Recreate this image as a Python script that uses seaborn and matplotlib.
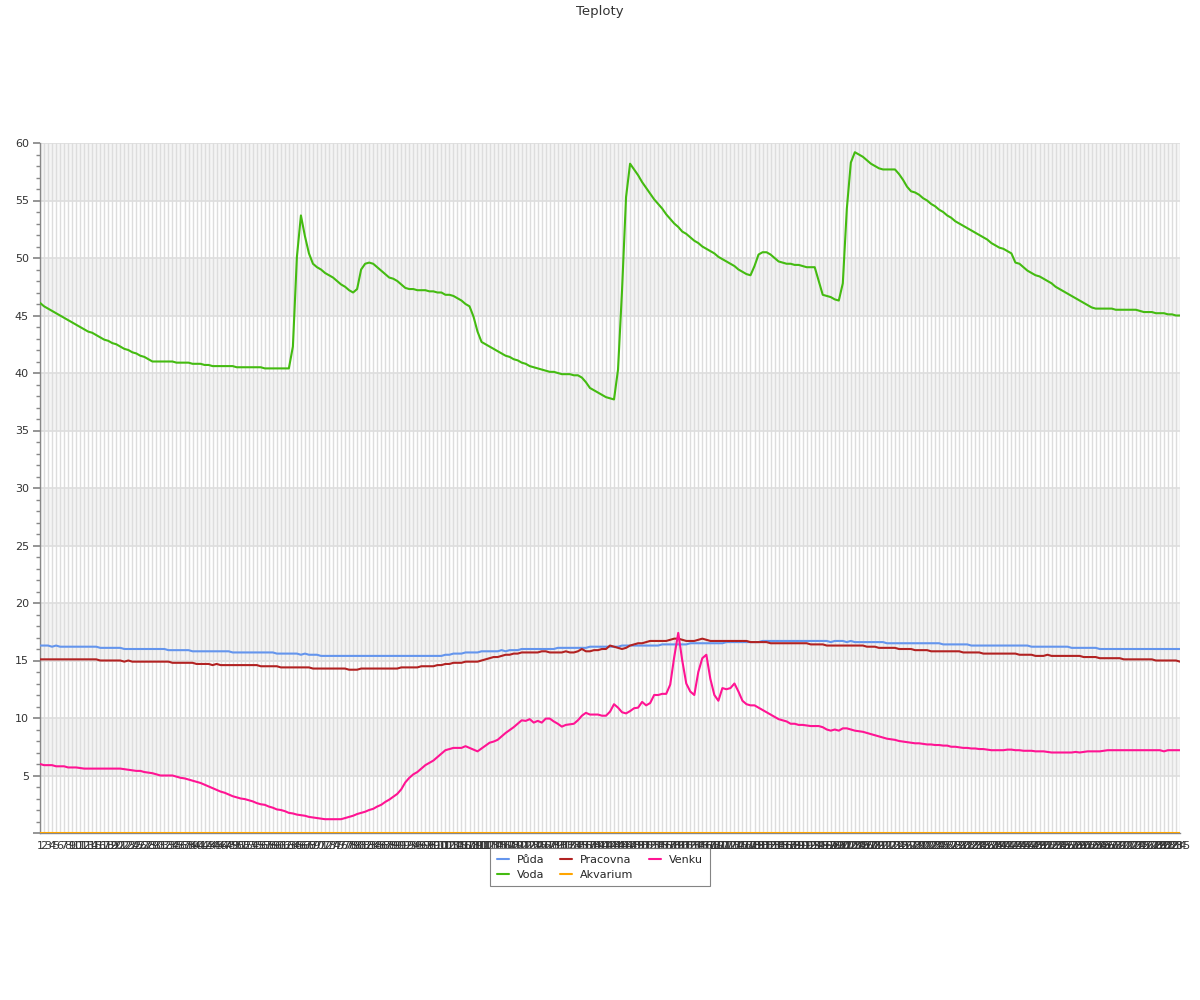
import numpy as np
import pandas as pd
import matplotlib
matplotlib.use("Agg")
import matplotlib.pyplot as plt
from matplotlib.ticker import MultipleLocator
from matplotlib.lines import Line2D
import seaborn as sns

title = "Teploty"
series_names = ["Půda", "Voda", "Pracovna", "Akvarium", "Venku"]
colors = ["#6495ed", "#44bb11", "#b22222", "#ffa500", "#ff1493"]

puda = [
    16.3, 16.3, 16.3, 16.2, 16.3, 16.2, 16.2, 16.2, 16.2, 16.2,
    16.2, 16.2, 16.2, 16.2, 16.2, 16.1, 16.1, 16.1, 16.1, 16.1,
    16.1, 16.0, 16.0, 16.0, 16.0, 16.0, 16.0, 16.0, 16.0, 16.0,
    16.0, 16.0, 15.9, 15.9, 15.9, 15.9, 15.9, 15.9, 15.8, 15.8,
    15.8, 15.8, 15.8, 15.8, 15.8, 15.8, 15.8, 15.8, 15.7, 15.7,
    15.7, 15.7, 15.7, 15.7, 15.7, 15.7, 15.7, 15.7, 15.7, 15.6,
    15.6, 15.6, 15.6, 15.6, 15.6, 15.5, 15.6, 15.5, 15.5, 15.5,
    15.4, 15.4, 15.4, 15.4, 15.4, 15.4, 15.4, 15.4, 15.4, 15.4,
    15.4, 15.4, 15.4, 15.4, 15.4, 15.4, 15.4, 15.4, 15.4, 15.4,
    15.4, 15.4, 15.4, 15.4, 15.4, 15.4, 15.4, 15.4, 15.4, 15.4,
    15.4, 15.5, 15.5, 15.6, 15.6, 15.6, 15.7, 15.7, 15.7, 15.7,
    15.8, 15.8, 15.8, 15.8, 15.8, 15.9, 15.8, 15.9, 15.9, 15.9,
    16.0, 16.0, 16.0, 16.0, 16.0, 16.0, 16.0, 16.0, 16.0, 16.1,
    16.1, 16.1, 16.1, 16.1, 16.1, 16.1, 16.1, 16.2, 16.2, 16.2,
    16.2, 16.2, 16.2, 16.2, 16.2, 16.3, 16.3, 16.3, 16.3, 16.3,
    16.3, 16.3, 16.3, 16.3, 16.3, 16.4, 16.4, 16.4, 16.4, 16.4,
    16.4, 16.4, 16.5, 16.5, 16.5, 16.5, 16.5, 16.5, 16.5, 16.5,
    16.5, 16.6, 16.6, 16.6, 16.6, 16.6, 16.6, 16.6, 16.6, 16.6,
    16.7, 16.7, 16.7, 16.7, 16.7, 16.7, 16.7, 16.7, 16.7, 16.7,
    16.7, 16.7, 16.7, 16.7, 16.7, 16.7, 16.7, 16.6, 16.7, 16.7,
    16.7, 16.6, 16.7, 16.6, 16.6, 16.6, 16.6, 16.6, 16.6, 16.6,
    16.6, 16.5, 16.5, 16.5, 16.5, 16.5, 16.5, 16.5, 16.5, 16.5,
    16.5, 16.5, 16.5, 16.5, 16.5, 16.4, 16.4, 16.4, 16.4, 16.4,
    16.4, 16.4, 16.3, 16.3, 16.3, 16.3, 16.3, 16.3, 16.3, 16.3,
    16.3, 16.3, 16.3, 16.3, 16.3, 16.3, 16.3, 16.2, 16.2, 16.2,
    16.2, 16.2, 16.2, 16.2, 16.2, 16.2, 16.2, 16.1, 16.1, 16.1,
    16.1, 16.1, 16.1, 16.1, 16.0, 16.0, 16.0, 16.0, 16.0, 16.0,
    16.0, 16.0, 16.0, 16.0, 16.0, 16.0, 16.0, 16.0, 16.0, 16.0,
    16.0, 16.0, 16.0, 16.0, 16.0,
]

voda = [
    46.1, 45.8, 45.6, 45.4, 45.2, 45.0, 44.8, 44.6, 44.4, 44.2,
    44.0, 43.8, 43.6, 43.5, 43.3, 43.1, 42.9, 42.8, 42.6, 42.5,
    42.3, 42.1, 42.0, 41.8, 41.7, 41.5, 41.4, 41.2, 41.0, 41.0,
    41.0, 41.0, 41.0, 41.0, 40.9, 40.9, 40.9, 40.9, 40.8, 40.8,
    40.8, 40.7, 40.7, 40.6, 40.6, 40.6, 40.6, 40.6, 40.6, 40.5,
    40.5, 40.5, 40.5, 40.5, 40.5, 40.5, 40.4, 40.4, 40.4, 40.4,
    40.4, 40.4, 40.4, 42.3, 50.1, 53.7, 51.9, 50.4, 49.5, 49.2,
    49.0, 48.7, 48.5, 48.3, 48.0, 47.7, 47.5, 47.2, 47.0, 47.3,
    49.0, 49.5, 49.6, 49.5, 49.2, 48.9, 48.6, 48.3, 48.2, 48.0,
    47.7, 47.4, 47.3, 47.3, 47.2, 47.2, 47.2, 47.1, 47.1, 47.0,
    47.0, 46.8, 46.8, 46.7, 46.5, 46.3, 46.0, 45.8, 44.9, 43.6,
    42.7, 42.5, 42.3, 42.1, 41.9, 41.7, 41.5, 41.4, 41.2, 41.1,
    40.9, 40.8, 40.6, 40.5, 40.4, 40.3, 40.2, 40.1, 40.1, 40.0,
    39.9, 39.9, 39.9, 39.8, 39.8, 39.6, 39.2, 38.7, 38.5, 38.3,
    38.1, 37.9, 37.8, 37.7, 40.3, 47.2, 55.3, 58.2, 57.7, 57.2,
    56.6, 56.1, 55.6, 55.1, 54.7, 54.3, 53.8, 53.4, 53.0, 52.7,
    52.3, 52.1, 51.8, 51.5, 51.3, 51.0, 50.8, 50.6, 50.4, 50.1,
    49.9, 49.7, 49.5, 49.3, 49.0, 48.8, 48.6, 48.5, 49.3, 50.3,
    50.5, 50.5, 50.3, 50.0, 49.7, 49.6, 49.5, 49.5, 49.4, 49.4,
    49.3, 49.2, 49.2, 49.2, 48.0, 46.8, 46.7, 46.6, 46.4, 46.3,
    47.8, 54.3, 58.3, 59.2, 59.0, 58.8, 58.5, 58.2, 58.0, 57.8,
    57.7, 57.7, 57.7, 57.7, 57.3, 56.8, 56.2, 55.8, 55.7, 55.5,
    55.2, 55.0, 54.7, 54.5, 54.2, 54.0, 53.7, 53.5, 53.2, 53.0,
    52.8, 52.6, 52.4, 52.2, 52.0, 51.8, 51.6, 51.3, 51.1, 50.9,
    50.8, 50.6, 50.4, 49.6, 49.5, 49.2, 48.9, 48.7, 48.5, 48.4,
    48.2, 48.0, 47.8, 47.5, 47.3, 47.1, 46.9, 46.7, 46.5, 46.3,
    46.1, 45.9, 45.7, 45.6, 45.6, 45.6, 45.6, 45.6, 45.5, 45.5,
    45.5, 45.5, 45.5, 45.5, 45.4, 45.3, 45.3, 45.3, 45.2, 45.2,
    45.2, 45.1, 45.1, 45.0, 45.0,
]

pracovna = [
    15.1, 15.1, 15.1, 15.1, 15.1, 15.1, 15.1, 15.1, 15.1, 15.1,
    15.1, 15.1, 15.1, 15.1, 15.1, 15.0, 15.0, 15.0, 15.0, 15.0,
    15.0, 14.9, 15.0, 14.9, 14.9, 14.9, 14.9, 14.9, 14.9, 14.9,
    14.9, 14.9, 14.9, 14.8, 14.8, 14.8, 14.8, 14.8, 14.8, 14.7,
    14.7, 14.7, 14.7, 14.6, 14.7, 14.6, 14.6, 14.6, 14.6, 14.6,
    14.6, 14.6, 14.6, 14.6, 14.6, 14.5, 14.5, 14.5, 14.5, 14.5,
    14.4, 14.4, 14.4, 14.4, 14.4, 14.4, 14.4, 14.4, 14.3, 14.3,
    14.3, 14.3, 14.3, 14.3, 14.3, 14.3, 14.3, 14.2, 14.2, 14.2,
    14.3, 14.3, 14.3, 14.3, 14.3, 14.3, 14.3, 14.3, 14.3, 14.3,
    14.4, 14.4, 14.4, 14.4, 14.4, 14.5, 14.5, 14.5, 14.5, 14.6,
    14.6, 14.7, 14.7, 14.8, 14.8, 14.8, 14.9, 14.9, 14.9, 14.9,
    15.0, 15.1, 15.2, 15.3, 15.3, 15.4, 15.5, 15.5, 15.6, 15.6,
    15.7, 15.7, 15.7, 15.7, 15.7, 15.8, 15.8, 15.7, 15.7, 15.7,
    15.7, 15.8, 15.7, 15.7, 15.8, 16.0, 15.8, 15.8, 15.9, 15.9,
    16.0, 16.0, 16.3, 16.2, 16.1, 16.0, 16.1, 16.3, 16.4, 16.5,
    16.5, 16.6, 16.7, 16.7, 16.7, 16.7, 16.7, 16.8, 16.9, 16.9,
    16.8, 16.7, 16.7, 16.7, 16.8, 16.9, 16.8, 16.7, 16.7, 16.7,
    16.7, 16.7, 16.7, 16.7, 16.7, 16.7, 16.7, 16.6, 16.6, 16.6,
    16.6, 16.6, 16.5, 16.5, 16.5, 16.5, 16.5, 16.5, 16.5, 16.5,
    16.5, 16.5, 16.4, 16.4, 16.4, 16.4, 16.3, 16.3, 16.3, 16.3,
    16.3, 16.3, 16.3, 16.3, 16.3, 16.3, 16.2, 16.2, 16.2, 16.1,
    16.1, 16.1, 16.1, 16.1, 16.0, 16.0, 16.0, 16.0, 15.9, 15.9,
    15.9, 15.9, 15.8, 15.8, 15.8, 15.8, 15.8, 15.8, 15.8, 15.8,
    15.7, 15.7, 15.7, 15.7, 15.7, 15.6, 15.6, 15.6, 15.6, 15.6,
    15.6, 15.6, 15.6, 15.6, 15.5, 15.5, 15.5, 15.5, 15.4, 15.4,
    15.4, 15.5, 15.4, 15.4, 15.4, 15.4, 15.4, 15.4, 15.4, 15.4,
    15.3, 15.3, 15.3, 15.3, 15.2, 15.2, 15.2, 15.2, 15.2, 15.2,
    15.1, 15.1, 15.1, 15.1, 15.1, 15.1, 15.1, 15.1, 15.0, 15.0,
    15.0, 15.0, 15.0, 15.0, 14.9,
]

akvarium = [
    0, 0, 0, 0, 0, 0, 0, 0, 0, 0, 0, 0, 0, 0, 0, 0, 0, 0, 0, 0,
    0, 0, 0, 0, 0, 0, 0, 0, 0, 0, 0, 0, 0, 0, 0, 0, 0, 0, 0, 0,
    0, 0, 0, 0, 0, 0, 0, 0, 0, 0, 0, 0, 0, 0, 0, 0, 0, 0, 0, 0,
    0, 0, 0, 0, 0, 0, 0, 0, 0, 0, 0, 0, 0, 0, 0, 0, 0, 0, 0, 0,
    0, 0, 0, 0, 0, 0, 0, 0, 0, 0, 0, 0, 0, 0, 0, 0, 0, 0, 0, 0,
    0, 0, 0, 0, 0, 0, 0, 0, 0, 0, 0, 0, 0, 0, 0, 0, 0, 0, 0, 0,
    0, 0, 0, 0, 0, 0, 0, 0, 0, 0, 0, 0, 0, 0, 0, 0, 0, 0, 0, 0,
    0, 0, 0, 0, 0, 0, 0, 0, 0, 0, 0, 0, 0, 0, 0, 0, 0, 0, 0, 0,
    0, 0, 0, 0, 0, 0, 0, 0, 0, 0, 0, 0, 0, 0, 0, 0, 0, 0, 0, 0,
    0, 0, 0, 0, 0, 0, 0, 0, 0, 0, 0, 0, 0, 0, 0, 0, 0, 0, 0, 0,
    0, 0, 0, 0, 0, 0, 0, 0, 0, 0, 0, 0, 0, 0, 0, 0, 0, 0, 0, 0,
    0, 0, 0, 0, 0, 0, 0, 0, 0, 0, 0, 0, 0, 0, 0, 0, 0, 0, 0, 0,
    0, 0, 0, 0, 0, 0, 0, 0, 0, 0, 0, 0, 0, 0, 0, 0, 0, 0, 0, 0,
    0, 0, 0, 0, 0, 0, 0, 0, 0, 0, 0, 0, 0, 0, 0, 0, 0, 0, 0, 0,
    0, 0, 0, 0, 0,
]

venku = [
    6.0, 5.9, 5.9, 5.9, 5.8, 5.8, 5.8, 5.7, 5.7, 5.7,
    5.65, 5.6, 5.6, 5.6, 5.6, 5.6, 5.6, 5.6, 5.6, 5.6,
    5.6, 5.55, 5.5, 5.45, 5.4, 5.4, 5.3, 5.25, 5.2, 5.1,
    5.0, 5.0, 5.0, 5.0, 4.9, 4.8, 4.75, 4.65, 4.55, 4.45,
    4.35, 4.2, 4.05, 3.9, 3.75, 3.6, 3.5, 3.35, 3.2, 3.1,
    3.0, 2.95, 2.85, 2.75, 2.6, 2.5, 2.45, 2.3, 2.2, 2.05,
    2.0, 1.9, 1.75, 1.7, 1.6, 1.55, 1.5, 1.4, 1.35, 1.3,
    1.25, 1.2, 1.2, 1.2, 1.2, 1.2, 1.3, 1.4, 1.5, 1.65,
    1.75, 1.85, 2.0, 2.1, 2.3, 2.45, 2.7, 2.9, 3.15, 3.4,
    3.8, 4.4, 4.8, 5.1, 5.3, 5.6, 5.9, 6.1, 6.3, 6.6,
    6.9, 7.2, 7.3, 7.4, 7.4, 7.4, 7.55, 7.4, 7.25, 7.1,
    7.35, 7.6, 7.85, 7.95, 8.1, 8.4, 8.7, 8.95, 9.2, 9.5,
    9.8, 9.75, 9.9, 9.6, 9.75, 9.6, 9.95, 9.95, 9.7, 9.5,
    9.25, 9.4, 9.45, 9.5, 9.8, 10.2, 10.45, 10.3, 10.3, 10.3,
    10.2, 10.2, 10.55, 11.2, 10.9, 10.5, 10.4, 10.6, 10.85, 10.9,
    11.4, 11.1, 11.3, 12.0, 12.0, 12.1, 12.1, 12.9, 15.3, 17.4,
    15.0, 13.0, 12.3, 12.0, 14.0, 15.2, 15.5, 13.4, 12.0, 11.5,
    12.6, 12.5, 12.6, 13.0, 12.3, 11.5, 11.2, 11.1, 11.1, 10.9,
    10.7, 10.5, 10.3, 10.1, 9.9, 9.8, 9.7, 9.5, 9.5, 9.4,
    9.4, 9.35, 9.3, 9.3, 9.3, 9.2, 9.0, 8.9, 9.0, 8.9,
    9.1, 9.1, 9.0, 8.9, 8.85, 8.8, 8.7, 8.6, 8.5, 8.4,
    8.3, 8.2, 8.15, 8.1, 8.0, 7.95, 7.9, 7.85, 7.8, 7.8,
    7.75, 7.7, 7.7, 7.65, 7.65, 7.6, 7.6, 7.5, 7.5, 7.45,
    7.4, 7.4, 7.35, 7.35, 7.3, 7.3, 7.25, 7.2, 7.2, 7.2,
    7.2, 7.25, 7.25, 7.2, 7.2, 7.15, 7.15, 7.15, 7.1, 7.1,
    7.1, 7.05, 7.0, 7.0, 7.0, 7.0, 7.0, 7.0, 7.05, 7.0,
    7.05, 7.1, 7.1, 7.1, 7.1, 7.15, 7.2, 7.2, 7.2, 7.2,
    7.2, 7.2, 7.2, 7.2, 7.2, 7.2, 7.2, 7.2, 7.2, 7.2,
    7.1, 7.2, 7.2, 7.2, 7.2,
]

n = len(voda)
categories = [str(i) for i in range(1, n + 1)]
series_values = [puda, voda, pracovna, akvarium, venku]

rows = []
for name, vals in zip(series_names, series_values):
    for k, v in enumerate(vals):
        rows.append({"x": k + 1, "y": v, "serie": name})
df = pd.DataFrame(rows)

sns.set_theme(style="white")
plt.rcParams["font.family"] = ["DejaVu Sans"]

fig = plt.figure(figsize=(12, 10), dpi=100)
ax = fig.add_axes([40 / 1200, 1 - 833 / 1000, 1140 / 1200, 690 / 1000])

# alternating bands
for lo in range(5, 60, 10):
    ax.axhspan(lo, lo + 5, color="#f4f4f4", zorder=0, lw=0)

palette = dict(zip(series_names, colors))
draw_order = ["Voda", "Půda", "Pracovna", "Venku", "Akvarium"]
for z, name in enumerate(draw_order):
    sns.lineplot(data=df[df["serie"] == name], x="x", y="y", color=palette[name],
                 lw=1.5, ax=ax, legend=False, estimator=None, sort=False,
                 zorder=3 + z)

ax.set_xlim(1, n)
ax.set_ylim(0, 60)
ax.set_xticks(range(1, n + 1))
ax.set_xticklabels(categories, fontsize=8, color="#333333")
ax.set_yticks(range(0, 61, 5))
ax.set_yticklabels([""] + [str(v) for v in range(5, 61, 5)], fontsize=8, color="#333333")
ax.yaxis.set_minor_locator(MultipleLocator(1))
ax.tick_params(axis="x", length=0, pad=6)
ax.tick_params(axis="y", which="major", length=5, color="#888888", left=True, pad=3)
ax.tick_params(axis="y", which="minor", length=3, color="#888888", left=True)
ax.grid(axis="x", color="#dddddd", lw=1, zorder=1)
ax.grid(axis="y", which="major", color="#dddddd", lw=1.2, zorder=1)
ax.set_axisbelow(True)
ax.set_xlabel("")
ax.set_ylabel("")
for s in ["top", "right"]:
    ax.spines[s].set_visible(False)
for s in ["left", "bottom"]:
    ax.spines[s].set_color("#888888")
    ax.spines[s].set_linewidth(1)

fig.text(0.5, 0.995, title, ha="center", va="top", fontsize=9.5, color="#333333")

handles = [Line2D([], [], color=palette[nm], lw=1.5) for nm in series_names]
leg = fig.legend(handles, series_names, loc="upper center", bbox_to_anchor=(0.5, 1 - 848 / 1000),
                 ncol=3, fontsize=8, frameon=True, fancybox=False, handlelength=1.1,
                 columnspacing=1.4, handletextpad=0.7, borderpad=0.6, labelspacing=0.45,
                 borderaxespad=0)
leg.get_frame().set_edgecolor("#666666")
leg.get_frame().set_linewidth(0.8)

fig.savefig("out.png", dpi=100)
